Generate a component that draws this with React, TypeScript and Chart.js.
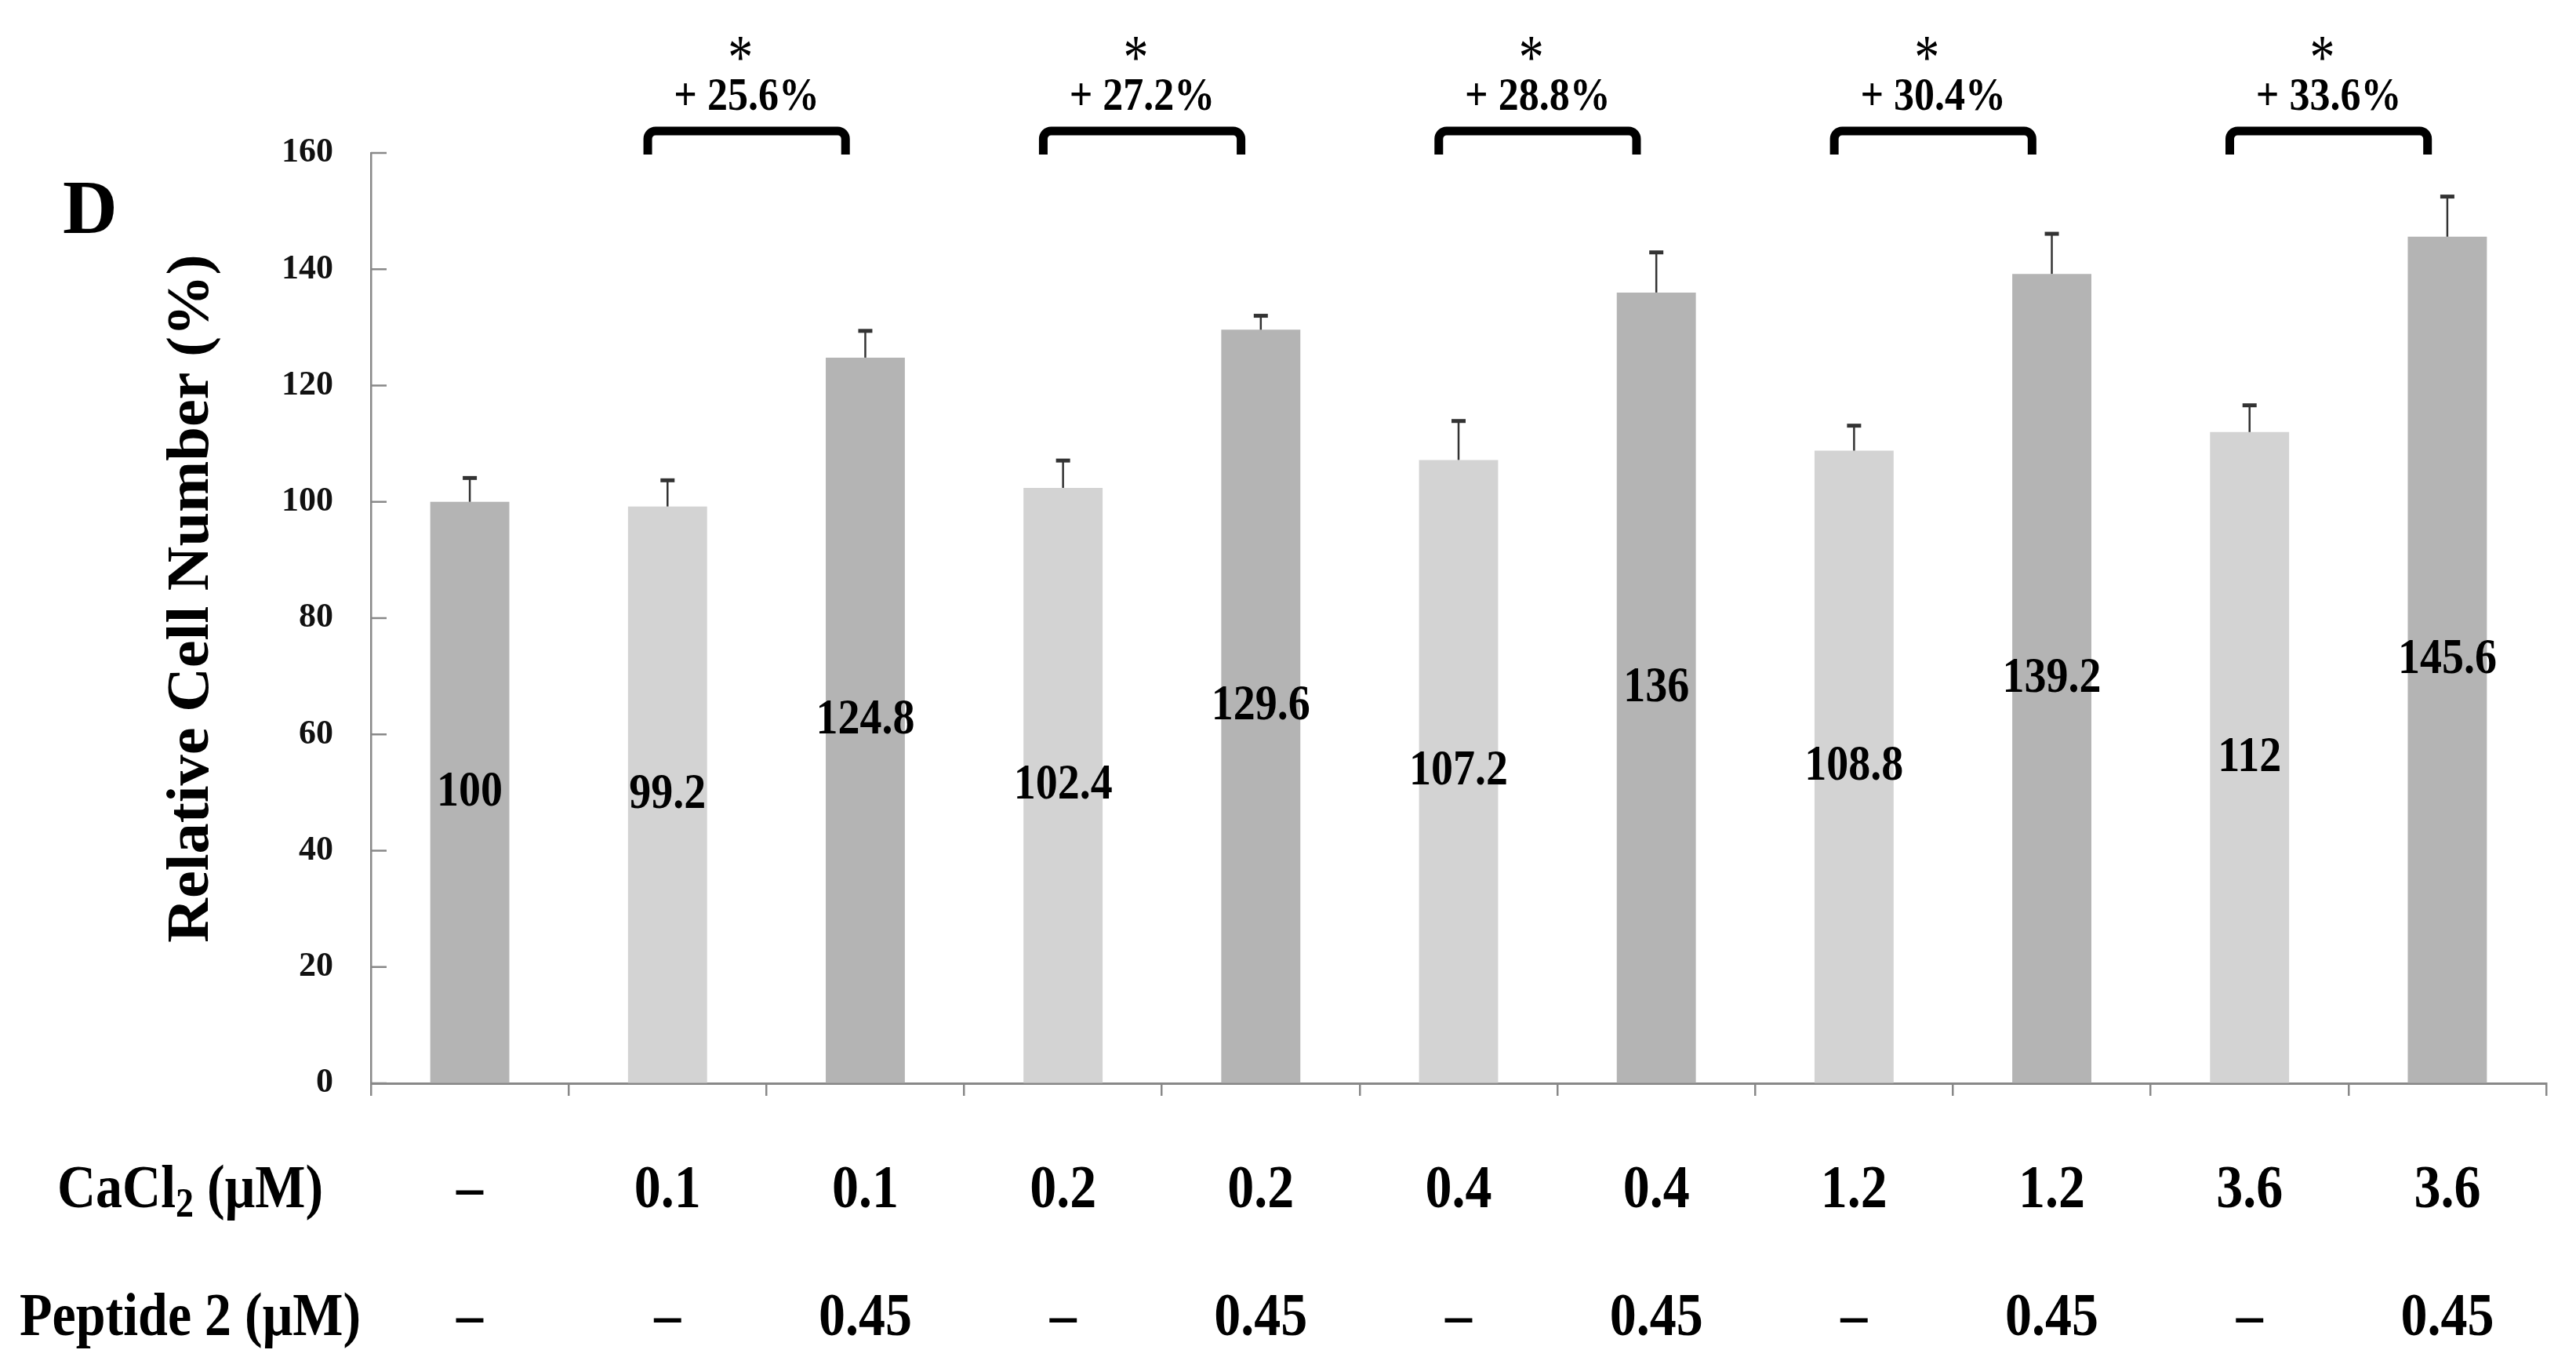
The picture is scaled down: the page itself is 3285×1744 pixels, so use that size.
import React, { useEffect, useRef } from "react";
import { Chart, registerables } from "chart.js";

Chart.register(...registerables);

// ---- Data ----
const cacl2Labels = ["–", "0.1", "0.1", "0.2", "0.2", "0.4", "0.4", "1.2", "1.2", "3.6", "3.6"];
const peptideLabels = ["–", "–", "0.45", "–", "0.45", "–", "0.45", "–", "0.45", "–", "0.45"];
const cellNumber = [100, 99.2, 124.8, 102.4, 129.6, 107.2, 136, 108.8, 139.2, 112, 145.6];
const errorUp = [4.1, 4.5, 4.6, 4.7, 2.4, 6.7, 6.9, 4.3, 6.9, 4.6, 6.9];
const barKinds = ["dark", "light", "dark", "light", "dark", "light", "dark", "light", "dark", "light", "dark"];
const bracketPairs = [[1, 2], [3, 4], [5, 6], [7, 8], [9, 10]];
const bracketLabels = ["+ 25.6%", "+ 27.2%", "+ 28.8%", "+ 30.4%", "+ 33.6%"];
const yTicks = [0, 20, 40, 60, 80, 100, 120, 140, 160];
const yTitle = "Relative Cell Number (%)";
const panelLetter = "D";

const categories = cacl2Labels.map((c, i) => `${c} / ${peptideLabels[i]}`);

const SERIF = '"Liberation Serif", "Times New Roman", serif';
const DARK = "#b4b4b4";
const LIGHT = "#d3d3d3";

function stretchedText(
  ctx: CanvasRenderingContext2D,
  text: string,
  x: number,
  y: number,
  font: string,
  sx: number,
  sy: number,
  align: CanvasTextAlign = "center"
) {
  ctx.save();
  ctx.translate(x, y);
  ctx.scale(sx, sy);
  ctx.font = font;
  ctx.textAlign = align;
  ctx.textBaseline = "middle";
  ctx.fillStyle = "#000";
  ctx.fillText(text, 0, 0);
  ctx.restore();
}

function richRowLabel(
  ctx: CanvasRenderingContext2D,
  parts: { t: string; size: number; dy: number }[],
  x: number,
  y: number,
  sy: number
) {
  ctx.save();
  ctx.translate(x, y);
  ctx.scale(1, sy);
  ctx.textAlign = "left";
  ctx.textBaseline = "middle";
  ctx.fillStyle = "#000";
  let cx = 0;
  for (const p of parts) {
    ctx.font = `bold ${p.size}px ${SERIF}`;
    ctx.fillText(p.t, cx, p.dy);
    cx += ctx.measureText(p.t).width;
  }
  ctx.restore();
}

const overlayPlugin = {
  id: "overlay",
  afterDatasetsDraw(chart: any) {
    const ctx: CanvasRenderingContext2D = chart.ctx;
    const xs = chart.scales.x;
    const ys = chart.scales.y;
    const meta = chart.getDatasetMeta(0);
    const area = chart.chartArea;
    const catW = (area.right - area.left) / cellNumber.length;

    // inward y ticks
    ctx.save();
    ctx.strokeStyle = "#888";
    ctx.lineWidth = 2.5;
    for (const v of yTicks) {
      const py = ys.getPixelForValue(v);
      ctx.beginPath();
      ctx.moveTo(area.left, py);
      ctx.lineTo(area.left + 20, py);
      ctx.stroke();
    }
    ctx.restore();

    // error bars
    ctx.save();
    ctx.strokeStyle = "#333";
    cellNumber.forEach((v, i) => {
      const bar = meta.data[i];
      const top = ys.getPixelForValue(v);
      const ey = ys.getPixelForValue(v + errorUp[i]);
      ctx.lineWidth = 2.5;
      ctx.beginPath();
      ctx.moveTo(bar.x, top);
      ctx.lineTo(bar.x, ey);
      ctx.stroke();
      ctx.lineWidth = 5;
      ctx.beginPath();
      ctx.moveTo(bar.x - 9, ey);
      ctx.lineTo(bar.x + 9, ey);
      ctx.stroke();
    });
    ctx.restore();

    // value labels inside bars
    cellNumber.forEach((v, i) => {
      const bar = meta.data[i];
      stretchedText(ctx, String(v), bar.x, ys.getPixelForValue(v / 2), `bold 56px ${SERIF}`, 1, 1.15);
    });

    // brackets
    const legBottom = ys.getPixelForValue(160) + 2;
    const topY = legBottom - 30;
    const r = 10;
    bracketPairs.forEach((pair, k) => {
      const xL = xs.getPixelForValue(pair[0]) - 0.1 * catW;
      const xR = xs.getPixelForValue(pair[1]) - 0.1 * catW;
      ctx.save();
      ctx.strokeStyle = "#000";
      ctx.lineWidth = 11;
      ctx.beginPath();
      ctx.moveTo(xL, legBottom);
      ctx.lineTo(xL, topY + r);
      ctx.arcTo(xL, topY, xL + r, topY, r);
      ctx.lineTo(xR - r, topY);
      ctx.arcTo(xR, topY, xR, topY + r, r);
      ctx.lineTo(xR, legBottom);
      ctx.stroke();
      ctx.restore();
      const cx = (xL + xR) / 2;
      stretchedText(ctx, bracketLabels[k], cx, topY - 42, `bold 52px ${SERIF}`, 1, 1.15);
      stretchedText(ctx, "*", cx - 8, topY - 88, `64px ${SERIF}`, 1, 1.25);
    });

    // x row labels
    const row1Y = 1519;
    const row2Y = 1682;
    cellNumber.forEach((_, i) => {
      const px = xs.getPixelForValue(i);
      stretchedText(ctx, cacl2Labels[i], px, row1Y, `bold 68px ${SERIF}`, 1, 1.15);
      stretchedText(ctx, peptideLabels[i], px, row2Y, `bold 68px ${SERIF}`, 1, 1.15);
    });
    richRowLabel(
      ctx,
      [
        { t: "CaCl", size: 68, dy: 0 },
        { t: "2", size: 46, dy: 16 },
        { t: " (μM)", size: 68, dy: 0 },
      ],
      73,
      row1Y,
      1.15
    );
    richRowLabel(ctx, [{ t: "Peptide 2 (μM)", size: 68, dy: 0 }], 25, row2Y, 1.15);

    // y title (rotated)
    ctx.save();
    ctx.translate(245, (area.top + area.bottom) / 2 - 25);
    ctx.rotate(-Math.PI / 2);
    ctx.scale(1.12, 1.08);
    ctx.font = `bold 70px ${SERIF}`;
    ctx.textAlign = "center";
    ctx.textBaseline = "middle";
    ctx.fillStyle = "#000";
    ctx.fillText(yTitle, 0, 0);
    ctx.restore();

    // panel letter
    stretchedText(ctx, panelLetter, 115, 272, `bold 92px ${SERIF}`, 1.05, 1.05);
  },
};

export default function App() {
  const canvasRef = useRef<HTMLCanvasElement | null>(null);

  useEffect(() => {
    document.body.style.margin = "0";
    document.body.style.overflow = "hidden";
    const canvas = canvasRef.current;
    if (!canvas) return;
    const chart = new Chart(canvas, {
      type: "bar",
      data: {
        labels: categories,
        datasets: [
          {
            data: cellNumber,
            backgroundColor: barKinds.map((k) => (k === "dark" ? DARK : LIGHT)),
            borderWidth: 0,
            barPercentage: 0.4,
            categoryPercentage: 1.0,
          },
        ],
      },
      options: {
        responsive: true,
        maintainAspectRatio: false,
        animation: false,
        layout: { padding: { top: 195, right: 38, left: 0, bottom: 0 } },
        plugins: {
          legend: { display: false },
          tooltip: { enabled: false },
        },
        scales: {
          x: {
            type: "category",
            offset: true,
            grid: {
              display: true,
              offset: true,
              drawOnChartArea: false,
              drawTicks: true,
              tickLength: 16,
              color: "#888",
              lineWidth: 2.5,
            },
            border: { display: true, color: "#888", width: 3 },
            ticks: { display: false },
            afterFit: (s: any) => {
              s.height = 363;
            },
          },
          y: {
            min: 0,
            max: 160,
            ticks: {
              stepSize: 20,
              padding: 48,
              color: "#111",
              font: { family: SERIF, size: 44, weight: "bold" },
            },
            grid: { drawOnChartArea: false, drawTicks: false },
            border: { display: true, color: "#888", width: 2.5 },
            afterFit: (s: any) => {
              s.width = 473;
            },
          },
        },
      } as any,
      plugins: [overlayPlugin],
    });
    return () => chart.destroy();
  }, []);

  return (
    <div style={{ position: "relative", width: 3285, height: 1744, background: "#fff" }}>
      <canvas ref={canvasRef} />
    </div>
  );
}
